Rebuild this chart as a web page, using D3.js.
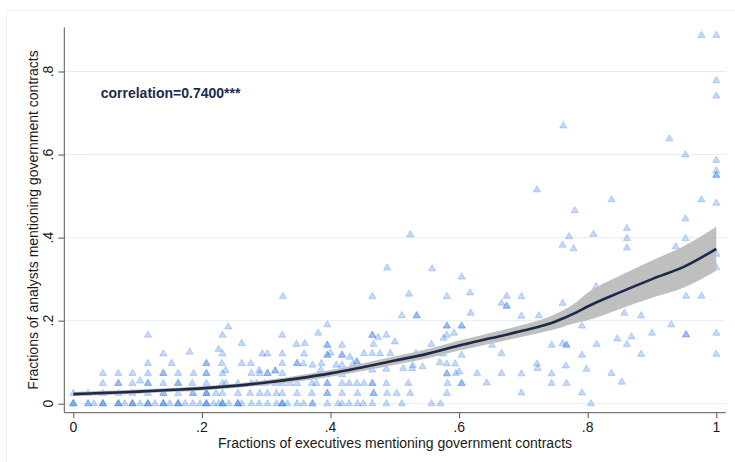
<!DOCTYPE html>
<html>
<head>
<meta charset="utf-8">
<script src="https://cdn.jsdelivr.net/npm/d3@7"></script>
<style>
  html, body { margin: 0; padding: 0; background: #ffffff; }
  svg { display: block; font-family: "Liberation Sans", Arial, Helvetica, sans-serif; }
</style>
</head>
<body>
<svg id="chart" width="735" height="462"></svg>
<script>
// ---- data -------------------------------------------------------------
// [executive share, analyst share] per firm, grouped by executive share
const pointsLow = [
  [0,0],[0,0],[0,0],[0.023,0],[0.023,0],[0.032,0],[0.046,0],[0.046,0],[0.046,0],
  [0.07,0],[0.07,0],[0.07,0],[0.08,0],[0.092,0],[0.092,0],[0.092,0],[0.104,0],
  [0.116,0],[0.116,0],[0.116,0],[0.127,0],[0.14,0],[0.14,0],[0.14,0],[0.15,0],
  [0.163,0],[0.163,0],[0.163,0],[0.174,0],[0.186,0],[0.197,0],
  [0,0.025],[0.023,0.025],[0.046,0.025],[0.07,0.025],[0.092,0.025],[0.116,0.025],
  [0.14,0.025],[0.14,0.025],[0.163,0.025],[0.186,0.025],[0.186,0.025],
  [0.046,0.049],[0.07,0.049],[0.07,0.049],[0.092,0.049],[0.104,0.055],[0.116,0.049],
  [0.116,0.049],[0.14,0.049],[0.163,0.049],[0.163,0.049],[0.185,0.049],
  [0.046,0.073],[0.07,0.073],[0.092,0.073],[0.116,0.073],[0.14,0.073],[0.14,0.073],
  [0.163,0.073],[0.187,0.073],
  [0.116,0.097],[0.153,0.097],[0.116,0.165],[0.14,0.12],[0.181,0.124]
];
const pointsLowMid = [
  [0.207,0],[0.207,0],[0.207,0],[0.218,0],[0.226,0],[0.232,0],[0.232,0],[0.232,0],
  [0.242,0],[0.256,0],[0.256,0],[0.256,0],[0.262,0],[0.277,0],[0.289,0],[0.302,0],
  [0.316,0],[0.325,0],[0.325,0],[0.325,0],[0.333,0],[0.348,0],[0.358,0],
  [0.207,0.025],[0.207,0.025],[0.207,0.025],[0.222,0.025],[0.232,0.025],[0.256,0.025],
  [0.275,0.025],[0.29,0.025],[0.302,0.025],[0.316,0.025],[0.325,0.025],[0.348,0.025],
  [0.207,0.049],[0.232,0.049],[0.237,0.049],[0.256,0.049],[0.277,0.049],[0.285,0.049],
  [0.298,0.049],[0.314,0.049],[0.325,0.049],[0.337,0.049],[0.348,0.049],
  [0.207,0.073],[0.207,0.073],[0.232,0.073],[0.237,0.08],[0.277,0.073],[0.289,0.08],
  [0.29,0.073],[0.302,0.073],[0.302,0.073],[0.314,0.079],[0.314,0.079],[0.325,0.073],
  [0.207,0.097],[0.207,0.097],[0.231,0.097],[0.262,0.097],[0.276,0.097],[0.325,0.097],
  [0.348,0.097],[0.348,0.097],[0.358,0.096],
  [0.226,0.131],[0.232,0.12],[0.294,0.12],[0.302,0.12],[0.325,0.12],[0.359,0.12],
  [0.262,0.145],[0.347,0.143],[0.36,0.145],
  [0.232,0.165],[0.241,0.185],[0.325,0.165],[0.326,0.258]
];
const pointsMid = [
  [0.372,0],[0.372,0],[0.395,0],[0.412,0],[0.418,0],[0.429,0],[0.442,0],[0.451,0],
  [0.465,0],[0.487,0],[0.511,0],[0.557,0],[0.571,0],
  [0.371,0.025],[0.395,0.025],[0.395,0.025],[0.418,0.025],[0.442,0.025],[0.467,0.025],
  [0.467,0.025],[0.488,0.025],[0.503,0.025],[0.524,0.025],[0.581,0.025],
  [0.371,0.049],[0.378,0.049],[0.395,0.049],[0.395,0.049],[0.418,0.049],[0.429,0.049],
  [0.441,0.049],[0.452,0.049],[0.465,0.049],[0.465,0.049],[0.487,0.049],[0.521,0.049],
  [0.582,0.049],
  [0.385,0.081],[0.418,0.07],[0.465,0.081],[0.487,0.083],[0.513,0.085],[0.527,0.085],
  [0.543,0.089],[0.581,0.072],[0.581,0.072],[0.595,0.073],
  [0.372,0.093],[0.386,0.097],[0.409,0.093],[0.418,0.093],[0.435,0.096],[0.441,0.101],
  [0.441,0.101],[0.528,0.092],[0.57,0.099],[0.581,0.096],[0.594,0.096],
  [0.395,0.117],[0.395,0.117],[0.4,0.122],[0.418,0.117],[0.418,0.117],[0.43,0.112],
  [0.452,0.121],[0.465,0.121],[0.477,0.12],[0.493,0.121],[0.533,0.121],[0.575,0.12],
  [0.395,0.141],[0.395,0.141],[0.418,0.141],[0.467,0.143],[0.5,0.149],[0.557,0.143],
  [0.381,0.17],[0.395,0.19],[0.465,0.165],[0.465,0.165],[0.474,0.16],[0.487,0.165],
  [0.576,0.158],[0.581,0.165],[0.592,0.17],[0.581,0.187],[0.581,0.187],
  [0.511,0.212],[0.534,0.212],[0.534,0.212],[0.465,0.258],[0.488,0.327],[0.524,0.407],
  [0.522,0.264],[0.558,0.325],[0.581,0.258]
];
const pointsHigh = [
  [0.604,0.305],[0.617,0.267],[0.618,0.218],[0.604,0.187],[0.604,0.187],[0.604,0.117],
  [0.6,0.077],[0.628,0.073],[0.604,0.049],[0.604,0.049],[0.643,0.05],[0.651,0.141],
  [0.666,0.242],[0.674,0.259],[0.674,0.235],[0.674,0.235],[0.697,0.258],[0.697,0.211],
  [0.724,0.212],[0.666,0.121],[0.666,0.073],[0.697,0.072],[0.697,0.026],[0.721,0.096],
  [0.722,0.085],[0.744,0.141],[0.744,0.072],[0.744,0.049],[0.761,0.145],[0.767,0.141],
  [0.767,0.141],[0.766,0.091],[0.767,0.049],[0.761,0.242],[0.791,0.187],[0.791,0.117],
  [0.798,0.083],[0.791,0.026],[0.805,0],[0.762,0.669],[0.721,0.515],[0.78,0.465],
  [0.771,0.402],[0.761,0.382],[0.778,0.373],[0.809,0.408],[0.813,0.282],[0.814,0.143],
  [0.837,0.491],[0.837,0.073],[0.846,0.156],[0.853,0.052],[0.857,0.218],[0.861,0.422],
  [0.861,0.398],[0.861,0.375],[0.861,0.143],[0.868,0.161],[0.883,0.212],[0.883,0.119],
  [0.9,0.17],[0.927,0.638],[0.93,0.19],[0.937,0.378],[0.952,0.599],[0.952,0.445],
  [0.952,0.398],[0.953,0.259],[0.953,0.166],[0.953,0.166],[0.977,0.887],[0.977,0.491],
  [0.977,0.259],[1,0.887],[1,0.778],[1,0.741],[1,0.586],[1,0.561],[1,0.55],[1,0.55],
  [1,0.483],[1,0.36],[1,0.328],[1,0.17],[1,0.119]
];

// local polynomial fit with 95% confidence band
const fitX    = [0, 0.05, 0.1, 0.15, 0.2, 0.25, 0.3, 0.35, 0.4, 0.45, 0.5, 0.55, 0.6, 0.65, 0.7, 0.75, 0.78, 0.8, 0.85, 0.9, 0.95, 1.0];
const fitY    = [0.023, 0.026, 0.029, 0.033, 0.037, 0.043, 0.051, 0.061, 0.073, 0.088, 0.104, 0.12, 0.14, 0.158, 0.176, 0.198, 0.218, 0.234, 0.268, 0.3, 0.33, 0.373];
const fitHalf = [0.005, 0.005, 0.005, 0.005, 0.005, 0.005, 0.006, 0.007, 0.008, 0.009, 0.01, 0.011, 0.012, 0.013, 0.014, 0.018, 0.024, 0.033, 0.04, 0.045, 0.05, 0.053];

const xTickValues = [0, 0.2, 0.4, 0.6, 0.8, 1];
const xTickLabels = ["0", ".2", ".4", ".6", ".8", "1"];
const yTickValues = [0, 0.2, 0.4, 0.6, 0.8];
const yTickLabels = ["0", ".2", ".4", ".6", ".8"];

const xTitle = "Fractions of executives mentioning government contracts";
const yTitle = "Fractions of analysts mentioning government contracts";
const noteText = "correlation=0.7400***";

// ---- layout -----------------------------------------------------------
const plot = { left: 64.3, right: 725.7, top: 27.3, bottom: 412.7 };
const svg = d3.select("#chart");
const fontFamily = "Liberation Sans, Arial, sans-serif";

const x = d3.scaleLinear().domain([0, 1]).range([73.3, 716.3]);
const y = d3.scaleLinear().domain([0, 0.8]).range([403.7, 71.5]);

// outer graph-region frame
svg.append("rect")
  .attr("x", 6.5).attr("y", 10.5).attr("width", 760).attr("height", 470)
  .attr("fill", "none").attr("stroke", "#eef2f4").attr("stroke-width", 1);

// horizontal gridlines
svg.append("g").selectAll("line").data(yTickValues).join("line")
  .attr("x1", plot.left).attr("x2", plot.right)
  .attr("y1", d => y(d)).attr("y2", d => y(d))
  .attr("stroke", "#e6eef2").attr("stroke-width", 1);

// scatter of triangles
const allPoints = [].concat(pointsLow, pointsLowMid, pointsMid, pointsHigh);
const tri = d3.symbol().type(d3.symbolTriangle).size(22);
svg.append("g").selectAll("path").data(allPoints).join("path")
  .attr("d", tri)
  .attr("transform", d => `translate(${x(d[0])},${y(d[1])})`)
  .attr("fill", "#3f82ea").attr("fill-opacity", 0.3)
  .attr("stroke", "#3f82ea").attr("stroke-opacity", 0.3).attr("stroke-width", 1);

// confidence band and fitted line
const fit = fitX.map((v, i) => ({ x: v, y: fitY[i], lo: fitY[i] - fitHalf[i], hi: fitY[i] + fitHalf[i] }));
svg.append("path").datum(fit)
  .attr("d", d3.area().x(d => x(d.x)).y0(d => y(d.lo)).y1(d => y(d.hi)).curve(d3.curveMonotoneX))
  .attr("fill", "#bfbfbf");
svg.append("path").datum(fit)
  .attr("d", d3.line().x(d => x(d.x)).y(d => y(d.y)).curve(d3.curveMonotoneX))
  .attr("fill", "none").attr("stroke", "#1b2a4a").attr("stroke-width", 2.6)
  .attr("stroke-linejoin", "round");

// axes: tick marks from d3 axes, labels placed explicitly
const axisColor = "#555555";
const gx = svg.append("g").attr("transform", `translate(0,${plot.bottom})`)
  .call(d3.axisBottom(x).tickValues(xTickValues).tickSize(5.5).tickSizeOuter(0).tickFormat(""));
gx.select(".domain").remove();
gx.selectAll(".tick line").attr("stroke", axisColor);

const gy = svg.append("g").attr("transform", `translate(${plot.left},0)`)
  .call(d3.axisLeft(y).tickValues(yTickValues).tickSize(6).tickSizeOuter(0).tickFormat(""));
gy.select(".domain").remove();
gy.selectAll(".tick line").attr("stroke", axisColor);

svg.append("g").selectAll("text").data(xTickValues).join("text")
  .attr("x", d => x(d)).attr("y", 431.5)
  .attr("text-anchor", "middle").attr("font-size", 14)
  .attr("font-family", fontFamily).attr("fill", "#1a1a1a")
  .text((d, i) => xTickLabels[i]);

svg.append("g").selectAll("text").data(yTickValues).join("text")
  .attr("transform", d => `translate(53.3,${y(d)}) rotate(-90)`)
  .attr("text-anchor", "middle").attr("font-size", 14)
  .attr("font-family", fontFamily).attr("fill", "#1a1a1a")
  .text((d, i) => yTickLabels[i]);

svg.append("line")
  .attr("x1", plot.left).attr("x2", plot.left).attr("y1", plot.top).attr("y2", plot.bottom)
  .attr("stroke", axisColor).attr("stroke-width", 1);
svg.append("line")
  .attr("x1", plot.left).attr("x2", plot.right).attr("y1", plot.bottom).attr("y2", plot.bottom)
  .attr("stroke", axisColor).attr("stroke-width", 1);

// axis titles
svg.append("text")
  .attr("x", (plot.left + plot.right) / 2).attr("y", 447.5)
  .attr("text-anchor", "middle").attr("font-size", 14)
  .attr("font-family", fontFamily).attr("fill", "#1a1a1a")
  .text(xTitle);
svg.append("text")
  .attr("transform", `translate(37.5,${(plot.top + plot.bottom) / 2}) rotate(-90)`)
  .attr("text-anchor", "middle").attr("font-size", 14)
  .attr("font-family", fontFamily).attr("fill", "#1a1a1a")
  .text(yTitle);

// correlation note
svg.append("text")
  .attr("x", 100.7).attr("y", 97.5)
  .attr("font-size", 14).attr("font-weight", "bold")
  .attr("font-family", fontFamily).attr("fill", "#1c2b50")
  .text(noteText);
</script>
</body>
</html>
